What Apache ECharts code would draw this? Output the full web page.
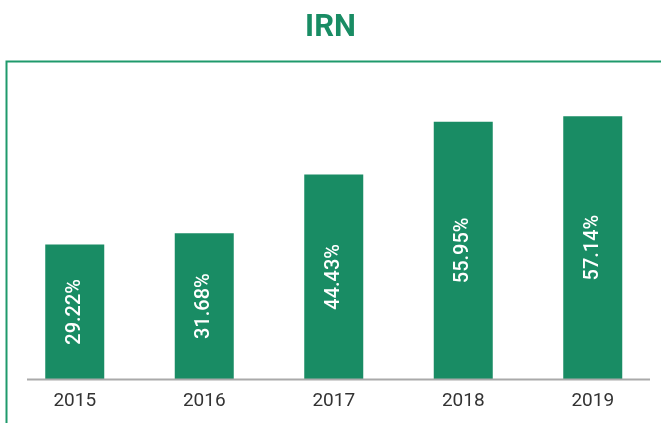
<!DOCTYPE html>
<html>
<head>
<meta charset="utf-8">
<script src="https://cdn.jsdelivr.net/npm/echarts@6/dist/echarts.min.js"></script>
<style>
  html, body { margin: 0; padding: 0; background: #fff; }
  #chart { width: 661px; height: 423px; }
</style>
</head>
<body>
<div id="chart"></div>
<script>
// data
const years = ['2015', '2016', '2017', '2018', '2019']
const shares = [29.22, 31.68, 44.43, 55.95, 57.14]

const green = '#198c64'

const chart = echarts.init(document.getElementById('chart'))
chart.setOption({
  animation: false,
  title: {
    text: 'IRN',
    left: 'center',
    top: 8,
    textStyle: {
      color: green,
      fontFamily: 'Roboto',
      fontWeight: 'bold',
      fontSize: 31
    }
  },
  grid: { left: 10, right: 3.5, top: 103, bottom: 44 },
  xAxis: {
    type: 'category',
    data: years,
    axisLine: { show: false },
    axisTick: { show: false },
    axisLabel: {
      color: '#333',
      fontFamily: 'Roboto',
      fontSize: 19,
      margin: 13
    }
  },
  yAxis: {
    type: 'value',
    min: 0,
    max: 60,
    show: false
  },
  series: [{
    type: 'bar',
    data: shares,
    barWidth: 59,
    itemStyle: { color: green },
    label: {
      show: true,
      position: 'inside',
      rotate: 90,
      color: '#fff',
      fontFamily: 'Roboto',
      fontWeight: 500,
      fontSize: 20,
      formatter: '{c}%'
    }
  }],
  graphic: [
    // green frame round the plot
    {
      type: 'rect',
      shape: { x: 6.5, y: 61.5, width: 700, height: 420 },
      style: { fill: 'none', stroke: '#1f9a6c', lineWidth: 2 },
      z: 0
    },
    // baseline
    {
      type: 'line',
      shape: { x1: 27, y1: 379.5, x2: 650, y2: 379.5 },
      style: { stroke: '#aaaaaa', lineWidth: 2 },
      z: 10
    }
  ]
})
</script>
</body>
</html>
